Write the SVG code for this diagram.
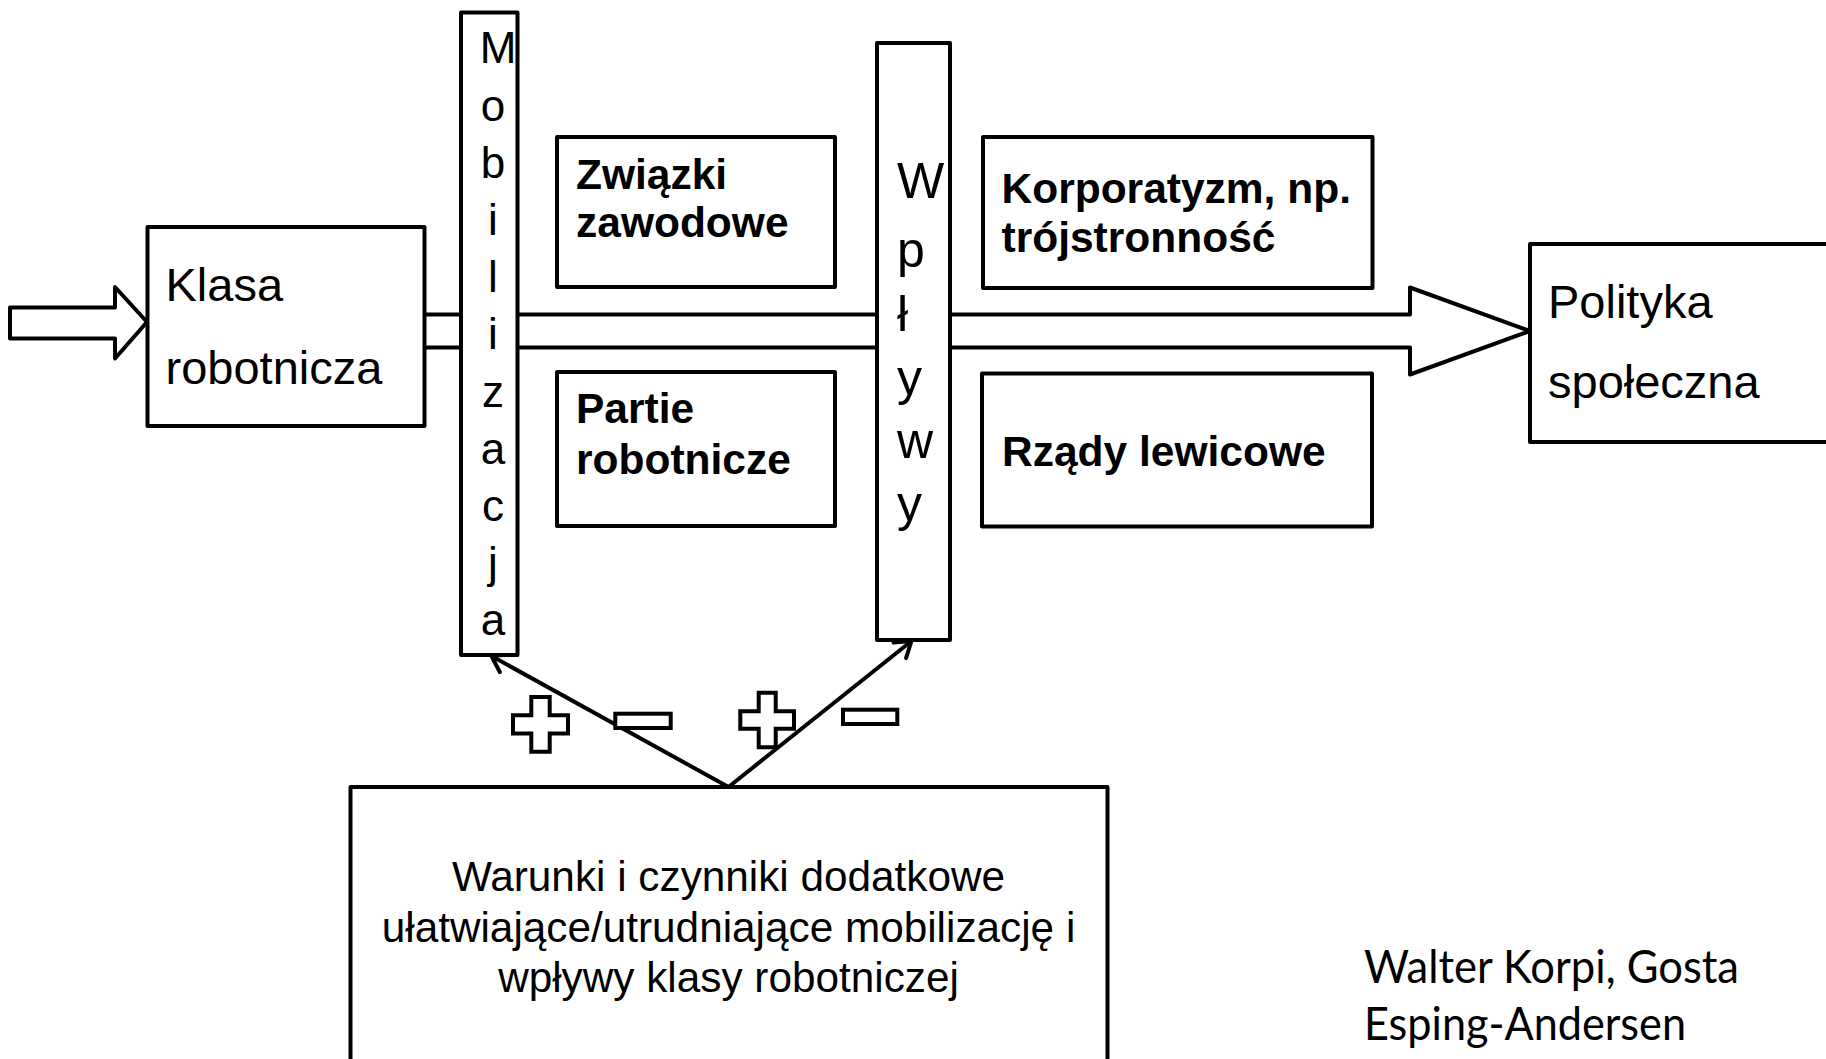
<svg xmlns="http://www.w3.org/2000/svg" width="1826" height="1059" viewBox="0 0 1826 1059">
  <style>
    .box { fill: #ffffff; stroke: #000000; stroke-width: 4; stroke-linejoin: round; }
    .ln { fill: none; stroke: #000000; stroke-width: 4; }
    .sign { fill: #ffffff; stroke: #000000; stroke-width: 4; stroke-linejoin: miter; }
    .t { font-family: "Liberation Sans", Arial, sans-serif; fill: #000000; }
    .reg { font-size: 47px; }
    .bold { font-size: 42.5px; font-weight: bold; }
    .vm { font-size: 44px; text-anchor: middle; }
    .vw { font-size: 50px; }
    .bottom { font-size: 42.3px; text-anchor: middle; }
    .author { font-family: "Lato", "Carlito", "Open Sans", sans-serif; font-size: 46px; fill: #000000; }
  </style>
  <defs>
    <marker id="open" markerUnits="userSpaceOnUse" markerWidth="40" markerHeight="40" viewBox="-20 -20 40 40" refX="0" refY="0" orient="auto">
      <path d="M -15 -10 L 0 0 L -15 10" fill="none" stroke="#000000" stroke-width="4" stroke-linejoin="round" stroke-linecap="round"/>
    </marker>
  </defs>
  <rect x="0" y="0" width="1826" height="1059" fill="#ffffff"/>

  <g id="connectors">
    <polygon id="input-arrow" class="box" points="10,307.5 115,307.5 115,287 147,322 115,358.5 115,338.5 10,338.5"/>
    <polygon id="main-arrow" class="box" points="424,314.5 1410,314.5 1410,287.5 1530,331 1410,374.5 1410,347.5 424,347.5"/>
    <line class="ln" x1="728.5" y1="787" x2="491.5" y2="656" marker-end="url(#open)"/>
    <line class="ln" x1="728.5" y1="787" x2="911.5" y2="641" marker-end="url(#open)"/>
  </g>

  <g id="signs">
    <path class="sign" d="M 531.3 696.9 h 18.4 v 18.3 h 18.3 v 18.3 h -18.3 v 18.3 h -18.4 v -18.3 h -18.3 v -18.3 h 18.3 z"/>
    <rect class="sign" x="615.3" y="713.7" width="55.4" height="14.3"/>
    <path class="sign" d="M 758.7 692.7 h 17 v 18.6 h 18.3 v 17.4 h -18.3 v 18.6 h -17 v -18.6 h -18.4 v -17.4 h 18.4 z"/>
    <rect class="sign" x="843" y="709.7" width="54.3" height="14.3"/>
  </g>

  <g id="klasa">
    <rect class="box" x="147.5" y="227" width="277" height="199"/>
    <text class="t reg" x="165.5" y="300.5">Klasa</text>
    <text class="t reg" x="165.5" y="384">robotnicza</text>
  </g>

  <g id="mobilizacja">
    <rect class="box" x="461" y="12.5" width="56.5" height="642.5"/>
    <text class="t vm" x="498" y="63">M</text>
    <text class="t vm" x="493" y="120.5">o</text>
    <text class="t vm" x="493" y="177.7">b</text>
    <text class="t vm" x="493" y="234.9">i</text>
    <text class="t vm" x="493" y="292.1">l</text>
    <text class="t vm" x="493" y="349.3">i</text>
    <text class="t vm" x="493" y="406.5">z</text>
    <text class="t vm" x="493" y="463.7">a</text>
    <text class="t vm" x="493" y="520.9">c</text>
    <text class="t vm" x="493" y="578.1">j</text>
    <text class="t vm" x="493" y="635.3">a</text>
  </g>

  <g id="zwiazki">
    <rect class="box" x="557" y="137" width="278" height="150"/>
    <text class="t bold" x="576" y="188.5">Związki</text>
    <text class="t bold" x="576" y="237">zawodowe</text>
  </g>

  <g id="partie">
    <rect class="box" x="557" y="372" width="278" height="154"/>
    <text class="t bold" x="576" y="423">Partie</text>
    <text class="t bold" x="576" y="473.5">robotnicze</text>
  </g>

  <g id="wplywy">
    <rect class="box" x="877" y="43" width="73" height="597"/>
    <text class="t vw" x="897" y="198">W</text>
    <text class="t vw" x="897" y="267">p</text>
    <text class="t vw" x="897" y="331">ł</text>
    <text class="t vw" x="897" y="395">y</text>
    <text class="t vw" x="897" y="458">w</text>
    <text class="t vw" x="897" y="521">y</text>
  </g>

  <g id="korporatyzm">
    <rect class="box" x="983" y="137" width="389.5" height="151"/>
    <text class="t bold" x="1001.5" y="203">Korporatyzm, np.</text>
    <text class="t bold" x="1001.5" y="252">trójstronność</text>
  </g>

  <g id="rzady">
    <rect class="box" x="982" y="373.5" width="390" height="153"/>
    <text class="t bold" x="1002" y="465.5">Rządy lewicowe</text>
  </g>

  <g id="polityka">
    <rect class="box" x="1530" y="244" width="310" height="198"/>
    <text class="t reg" x="1548" y="317.5">Polityka</text>
    <text class="t reg" x="1548" y="398">społeczna</text>
  </g>

  <g id="warunki">
    <rect class="box" x="350.5" y="787" width="757" height="300"/>
    <text class="t bottom" x="728.5" y="891">Warunki i czynniki dodatkowe</text>
    <text class="t bottom" x="728.5" y="942">ułatwiające/utrudniające mobilizację i</text>
    <text class="t bottom" x="728.5" y="992">wpływy klasy robotniczej</text>
  </g>

  <g id="author">
    <text class="author" x="1364" y="983" textLength="375" lengthAdjust="spacingAndGlyphs">Walter Korpi, Gosta</text>
    <text class="author" x="1364" y="1040" textLength="322" lengthAdjust="spacingAndGlyphs">Esping-Andersen</text>
  </g>
</svg>
